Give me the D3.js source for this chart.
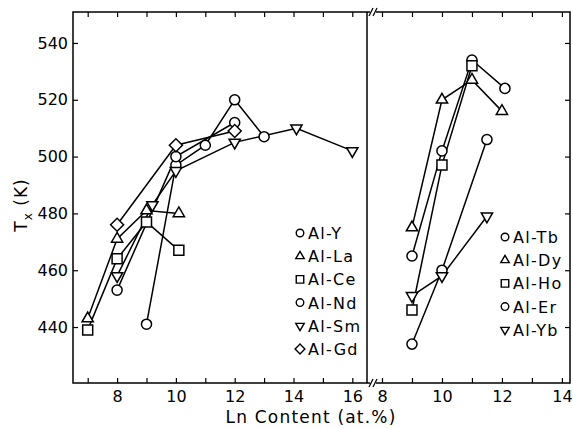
<!DOCTYPE html>
<html>
<head>
<meta charset="utf-8">
<script src="https://cdn.jsdelivr.net/npm/d3@7"></script>
<style>
  body { margin: 0; background: #fff; }
  text { font-family: "DejaVu Sans", sans-serif; fill: #000; }
</style>
</head>
<body>
<div id="chart"></div>
<script>
// data: [Ln content (at.%), Tx (K)]
var alY  = [[9, 441], [10, 497], [11, 504], [12, 520], [13, 507]];
var alLa = [[7, 443], [8, 471], [9, 481], [10.1, 480]];
var alCe = [[7, 439], [8, 464], [9, 477], [10.1, 467]];
var alNd = [[8, 453], [10, 500], [12, 512]];
var alSm = [[8, 458], [9.2, 483], [10, 495], [12, 505], [14.1, 510], [16, 502]];
var alGd = [[8, 476], [10, 504], [12, 509]];

var alTb = [[9, 465], [10, 502], [11, 534], [12.1, 524]];
var alDy = [[9, 475], [10, 520], [11, 527], [12, 516]];
var alHo = [[9, 446], [10, 497], [11, 532]];
var alEr = [[9, 434], [10, 460], [11.5, 506]];
var alYb = [[9, 451], [10, 458], [11.5, 479]];

var leftSeries = [
  {name: "Al-Y", shape: "circle", values: alY},
  {name: "Al-La", shape: "up", values: alLa},
  {name: "Al-Ce", shape: "square", values: alCe},
  {name: "Al-Nd", shape: "circle", values: alNd},
  {name: "Al-Sm", shape: "down", values: alSm},
  {name: "Al-Gd", shape: "diamond", values: alGd}
];
var rightSeries = [
  {name: "Al-Tb", shape: "circle", values: alTb},
  {name: "Al-Dy", shape: "up", values: alDy},
  {name: "Al-Ho", shape: "square", values: alHo},
  {name: "Al-Er", shape: "circle", values: alEr},
  {name: "Al-Yb", shape: "down", values: alYb}
];

var yTicks = [440, 460, 480, 500, 520, 540];
var xTicksLeft = [7, 8, 9, 10, 11, 12, 13, 14, 15, 16];
var xTicksRight = [8, 9, 10, 11, 12, 13, 14];

var width = 573, height = 429;
var yTop = 12, yBot = 383, xLeft = 73, xMid = 367, xRight = 570;

var svg = d3.select("#chart").append("svg")
    .attr("width", width)
    .attr("height", height);

var y = d3.scaleLinear().domain([420.3, 550.9]).range([yBot, yTop]);
var xL = d3.scaleLinear().domain([6.5, 16.5]).range([xLeft, xMid]);
var xR = d3.scaleLinear().domain([7.5, 14.27]).range([xMid, xRight]);

function evenOnly(d) { return d % 2 == 0 ? d : ""; }

// frame
svg.append("rect")
    .attr("x", xLeft).attr("y", yTop)
    .attr("width", xRight - xLeft).attr("height", yBot - yTop)
    .attr("fill", "none").attr("stroke", "#000").attr("stroke-width", 1.5);
svg.append("line")
    .attr("x1", xMid).attr("x2", xMid).attr("y1", yTop).attr("y2", yBot)
    .attr("stroke", "#000").attr("stroke-width", 1.5);

// axes
function styleAxis(g) {
  g.select(".domain").remove();
  g.selectAll(".tick line").attr("stroke", "#000").attr("stroke-width", 1.2);
  g.selectAll(".tick text").style("font-size", "16px").attr("fill", "#000");
}

svg.append("g").attr("transform", "translate(0," + yBot + ")")
    .call(d3.axisBottom(xL).tickValues(xTicksLeft).tickSize(-5).tickPadding(8).tickFormat(evenOnly))
    .call(styleAxis);
svg.append("g").attr("transform", "translate(0," + yBot + ")")
    .call(d3.axisBottom(xR).tickValues(xTicksRight).tickSize(-5).tickPadding(8).tickFormat(evenOnly))
    .call(styleAxis);
svg.append("g").attr("transform", "translate(0," + yTop + ")")
    .call(d3.axisTop(xL).tickValues(xTicksLeft).tickSize(-5).tickFormat(""))
    .call(styleAxis);
svg.append("g").attr("transform", "translate(0," + yTop + ")")
    .call(d3.axisTop(xR).tickValues(xTicksRight).tickSize(-5).tickFormat(""))
    .call(styleAxis);
svg.append("g").attr("transform", "translate(" + xLeft + ",0)")
    .call(d3.axisLeft(y).tickValues(yTicks).tickSize(-5).tickPadding(5))
    .call(styleAxis);
svg.append("g").attr("transform", "translate(" + xRight + ",0)")
    .call(d3.axisRight(y).tickValues(yTicks).tickSize(-5).tickFormat(""))
    .call(styleAxis);

// axis break marks
[yTop, yBot].forEach(function(yy) {
  svg.append("rect").attr("x", 370).attr("y", yy - 1).attr("width", 6).attr("height", 2).attr("fill", "#fff");
  [371, 375].forEach(function(xx) {
    svg.append("line")
        .attr("x1", xx - 2).attr("x2", xx + 2)
        .attr("y1", yy + 4).attr("y2", yy - 4)
        .attr("stroke", "#000").attr("stroke-width", 1.2);
  });
});

// axis titles
svg.append("text")
    .attr("transform", "translate(27,205) rotate(-90)")
    .attr("text-anchor", "middle")
    .style("font-size", "17px")
    .style("letter-spacing", "1px")
    .call(function(t) {
      t.append("tspan").text("T");
      t.append("tspan").attr("dy", 5).style("font-size", "12px").text("x");
      t.append("tspan").attr("dy", -5).text(" (K)");
    });
svg.append("text")
    .attr("x", 311).attr("y", 423)
    .attr("text-anchor", "middle")
    .style("font-size", "17px")
    .style("letter-spacing", "1.2px")
    .text("Ln Content (at.%)");

// markers
function markerPath(shape, s) {
  if (shape == "circle") return d3.symbol(d3.symbolCircle, s * s * 0.8)();
  if (shape == "square") return d3.symbol(d3.symbolSquare, s * s)();
  if (shape == "diamond") return d3.symbol(d3.symbolSquare, s * s * 0.85)();
  return d3.symbol(d3.symbolTriangle, s * s * 0.55)();
}
function markerRot(shape) {
  if (shape == "down") return " rotate(180)";
  if (shape == "diamond") return " rotate(45)";
  return "";
}

function drawPanel(series, x) {
  var line = d3.line()
      .x(function(d) { return x(d[0]); })
      .y(function(d) { return y(d[1]); });
  series.forEach(function(s) {
    svg.append("path")
        .attr("d", line(s.values))
        .attr("fill", "none")
        .attr("stroke", "#000")
        .attr("stroke-width", 1.5);
  });
  series.forEach(function(s) {
    svg.selectAll(null)
        .data(s.values)
        .enter().append("path")
        .attr("d", markerPath(s.shape, 10))
        .attr("transform", function(d) {
          return "translate(" + x(d[0]) + "," + y(d[1]) + ")" + markerRot(s.shape);
        })
        .attr("fill", "#fff")
        .attr("stroke", "#000")
        .attr("stroke-width", 1.5);
  });
}
drawPanel(leftSeries, xL);
drawPanel(rightSeries, xR);

// legends
function legend(series, mx, y0) {
  var g = svg.append("g");
  series.forEach(function(s, i) {
    var yy = y0 + i * 23.2;
    g.append("path")
        .attr("d", markerPath(s.shape, 7.5))
        .attr("transform", "translate(" + mx + "," + yy + ")" + markerRot(s.shape))
        .attr("fill", "#fff").attr("stroke", "#000").attr("stroke-width", 1.4);
    g.append("text")
        .attr("x", mx + 8).attr("y", yy + 6)
        .style("font-size", "16px")
        .style("letter-spacing", "1.3px")
        .text(s.name);
  });
}
legend(leftSeries, 300, 233);
legend(rightSeries, 505, 237);
</script>
</body>
</html>
